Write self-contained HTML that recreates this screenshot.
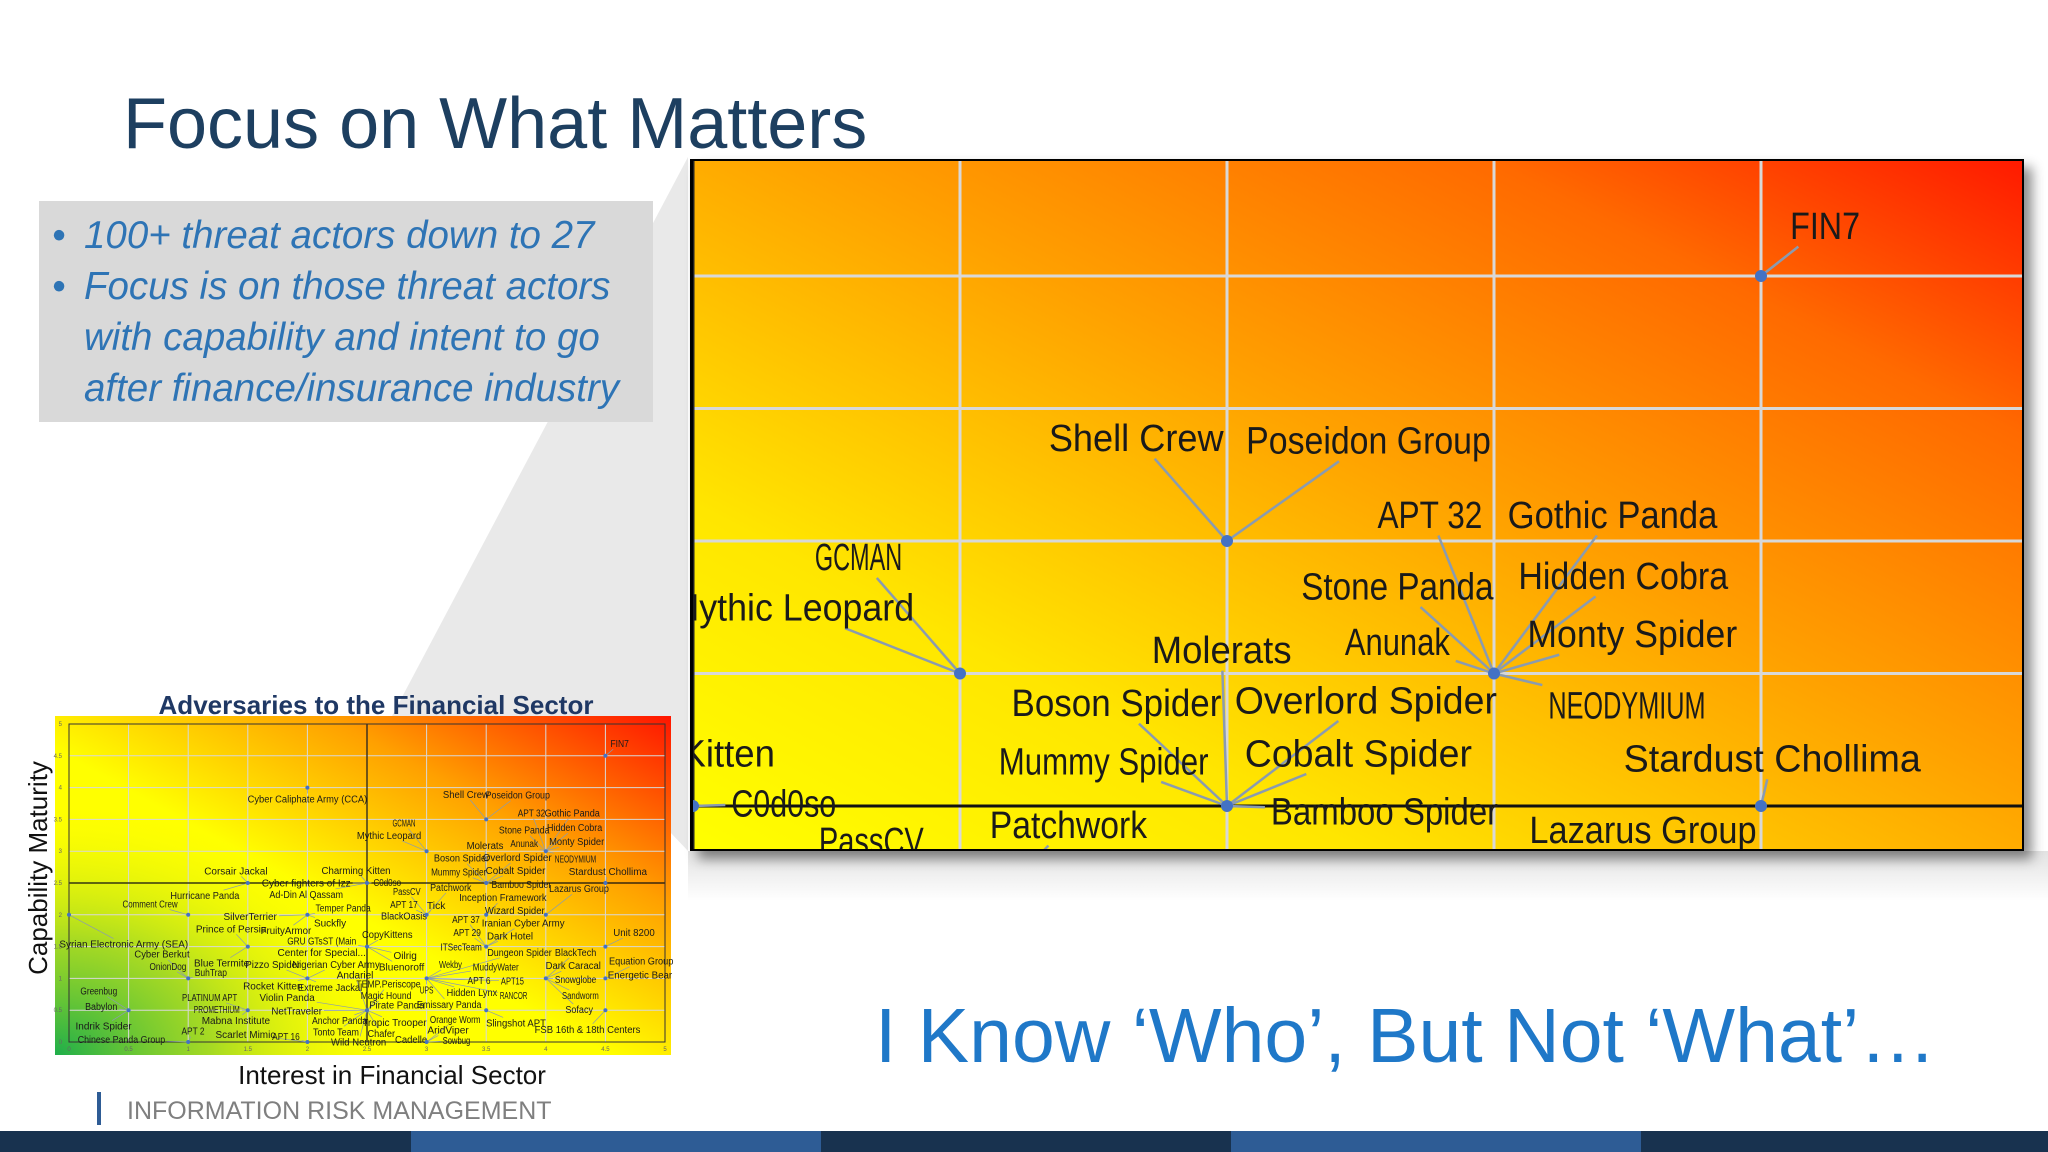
<!DOCTYPE html>
<html><head><meta charset="utf-8"><style>
html,body{margin:0;padding:0;background:#fff;width:2048px;height:1152px;overflow:hidden;}
body{position:relative;font-family:"Liberation Sans",sans-serif;}
</style></head><body>
<svg id="page" width="2048" height="1152" viewBox="0 0 2048 1152" xmlns="http://www.w3.org/2000/svg" style="position:absolute;left:0;top:0;overflow:hidden">
<defs>
  <linearGradient id="bigGrad" x1="0" y1="1" x2="1" y2="0">
    <stop offset="0" stop-color="#ffff00"/>
    <stop offset="0.25" stop-color="#ffe600"/>
    <stop offset="0.55" stop-color="#ffa000"/>
    <stop offset="0.8" stop-color="#ff6a00"/>
    <stop offset="1" stop-color="#ff1a00"/>
  </linearGradient>
  <linearGradient id="smallGrad" x1="0" y1="1" x2="1" y2="0">
    <stop offset="0" stop-color="#ffff00"/>
    <stop offset="0.45" stop-color="#ffff00"/>
    <stop offset="0.72" stop-color="#ffa000"/>
    <stop offset="1" stop-color="#ff1500"/>
  </linearGradient>
  <radialGradient id="greenGrad" cx="0" cy="1" r="0.75" gradientTransform="scale(0.75,1)">
    <stop offset="0" stop-color="#1fae4a" stop-opacity="1"/>
    <stop offset="0.45" stop-color="#8fd02c" stop-opacity="0.8"/>
    <stop offset="1" stop-color="#ffff00" stop-opacity="0"/>
  </radialGradient>
  <linearGradient id="bandGrad" x1="0" y1="0" x2="0" y2="1">
    <stop offset="0" stop-color="#e2e2e2"/>
    <stop offset="1" stop-color="#ffffff"/>
  </linearGradient>
  <filter id="shadow" x="-5%" y="-5%" width="115%" height="115%">
    <feDropShadow dx="8" dy="8" stdDeviation="6" flood-color="#000" flood-opacity="0.45"/>
  </filter>
  <clipPath id="bigClip"><rect x="693" y="161" width="1329" height="688"/></clipPath>
</defs>

<polygon points="392,716 688,157 688,851 560,716" fill="#e9e9e9"/>
<rect x="688" y="851" width="1360" height="50" fill="url(#bandGrad)"/>

<text x="123" y="148" font-size="72" fill="#1d3f60" font-family="Liberation Sans, sans-serif">Focus on What Matters</text>

<rect x="39" y="201" width="614" height="221" fill="#d9d9d9"/>
<g font-family="Liberation Sans, sans-serif" font-style="italic" font-size="38.5" fill="#2e74b5">
  <text x="52" y="248">•</text>
  <text x="84" y="248">100+ threat actors down to 27</text>
  <text x="52" y="299">•</text>
  <text x="84" y="299">Focus is on those threat actors</text>
  <text x="84" y="350">with capability and intent to go</text>
  <text x="84" y="401">after finance/insurance industry</text>
</g>

<g id="smallChart">
  <text x="376" y="714" text-anchor="middle" font-size="26" font-weight="bold" fill="#1f3864">Adversaries to the Financial Sector</text>
  <rect x="55" y="716" width="616" height="339" fill="url(#smallGrad)"/>
  <rect x="55" y="716" width="616" height="339" fill="url(#greenGrad)"/>
  <g id="smallGrid"></g>
  <g id="smallMarks"></g>
</g>
<text transform="translate(47,868) rotate(-90)" text-anchor="middle" font-size="26" fill="#111">Capability Maturity</text>
<text x="392" y="1084" text-anchor="middle" font-size="26" fill="#111">Interest in Financial Sector</text>

<g>
  <rect x="690" y="159" width="1334" height="692" fill="#000" filter="url(#shadow)"/>
  <rect x="693" y="161" width="1329" height="688" fill="url(#bigGrad)"/>
  <g clip-path="url(#bigClip)">
    <g id="bigGrid"></g>
    <g id="bigMarks"></g>
  </g>
</g>

<text x="875" y="1062" font-size="77" fill="#1f78c8">I Know ‘Who’, But Not ‘What’…</text>

<rect x="97" y="1092" width="4" height="33" fill="#2e5c95"/>
<text x="127" y="1119" font-size="25" fill="#7f7f7f">INFORMATION RISK MANAGEMENT</text>
<rect x="0" y="1131" width="411" height="21" fill="#18324f"/>
<rect x="411" y="1131" width="410" height="21" fill="#2e5c95"/>
<rect x="821" y="1131" width="410" height="21" fill="#18324f"/>
<rect x="1231" y="1131" width="410" height="21" fill="#2e5c95"/>
<rect x="1641" y="1131" width="407" height="21" fill="#18324f"/>
</svg>

<script>
const pointX = [4.5,2,3.5,3,4,3.5,4.5,1.5,2.5,1,0,2,1.5,1,2.5,2,2.5,3,1.5,2,1,0.5,3,3.5,4,3.5,3,3.5,4,4.5,4.5,4.5];
const pointY = [4.5,4,3.5,3,3,2.5,2.5,2.5,2.5,2,2,2,1.5,1,1.5,1,0.5,0,0.5,0,0,0.5,2,2,2,1.5,1,0.5,1,1.5,1,0.5];
const actorNames = ["FIN7","Cyber Caliphate Army (CCA)","Shell Crew","Poseidon Group","GCMAN","Mythic Leopard",
 "APT 32","Gothic Panda","Stone Panda","Hidden Cobra","Anunak","Monty Spider","NEODYMIUM",
 "Molerats","Boson Spider","Overlord Spider","Mummy Spider","Cobalt Spider","Bamboo Spider","Stardust Chollima",
 "Corsair Jackal","Hurricane Panda","Charming Kitten","C0d0so","Cyber fighters of Izz","Ad-Din Al Qassam",
 "Comment Crew","Syrian Electronic Army (SEA)","SilverTerrier","Temper Panda","Suckfly","FruityArmor",
 "Prince of Persia","Blue Termite","Cyber Berkut","OnionDog","BuhTrap",
 "GRU GTsST (Main","Center for Special...","CopyKittens","Oilrig","Bluenoroff",
 "Pizzo Spider","Nigerian Cyber Army","Rocket Kitten","Extreme Jackal",
 "Andariel","TEMP.Periscope","Magic Hound","Pirate Panda","Violin Panda","NetTraveler","Anchor Panda","Tonto Team","Wild Neutron","Tropic Trooper","Chafer",
 "Cadelle","Orange Worm","AridViper","Sowbug",
 "PLATINUM APT","PROMETHIUM","Mabna Institute","Scarlet Mimic","APT 16","APT 2","Chinese Panda Group",
 "Greenbug","Babylon","Indrik Spider",
 "Patchwork","PassCV","APT 17","Tick","BlackOasis","Inception Framework","Wizard Spider","Lazarus Group",
 "APT 37","APT 29","Iranian Cyber Army","Dark Hotel","ITSecTeam",
 "Dungeon Spider","Wekby","MuddyWater","APT 6","APT15","UPS","Hidden Lynx","RANCOR","Emissary Panda",
 "Slingshot APT","BlackTech","Dark Caracal","Snowglobe","Sandworm","Sofacy","Unit 8200","Equation Group","Energetic Bear","FSB 16th & 18th Centers"];
const actorPoint = [0,1,2,2,3,3, 4,4,4,4,4,4,4, 5,5,5,5,5,5,6, 7,7,8,8,8,8, 9,10,11,11,11,11, 12,12,13,13,13,
 14,14,14,14,14, 15,15,15,15, 16,16,16,16,16,16,16,16,16,16,16, 17,17,17,17, 18,18,18,19,19,20,20, 21,21,21,
 22,22,22,22,22,23,24,24, 25,25,25,25,25, 26,26,26,26,26,26,26,26,26, 27,28,28,28,28,28,29,30,30,31];
const labelX = [4.62,2.0,3.33,3.765,2.81,2.685, 3.88,4.222,3.819,4.242,3.819,4.259,4.249, 3.49,3.293,3.76,3.269,3.746,3.795,4.521,
 1.40,1.14,2.408,2.67,1.99,1.99, 0.68,0.46,1.52,2.30,2.19,1.82, 1.36,1.28,0.78,0.83,1.19,
 2.12,2.12,2.67,2.82,2.79, 1.71,2.24,1.71,2.19, 2.40,2.68,2.66,2.75,1.83,1.91,2.27,2.24,2.43,2.73,2.62,
 2.87,3.24,3.18,3.25, 1.18,1.24,1.40,1.48,1.82,1.04,0.44, 0.25,0.27,0.29,
 3.203,2.834,2.81,3.08,2.81,3.64,3.74,4.279, 3.33,3.34,3.81,3.70,3.29,
 3.78,3.20,3.58,3.44,3.72,3.00,3.38,3.73,3.19, 3.75,4.25,4.23,4.25,4.29,4.28,4.74,4.80,4.79,4.35];
const labelY = [4.69,3.82,3.89,3.88,3.44,3.25, 3.60,3.60,3.33,3.37,3.12,3.15,2.88, 3.09,2.89,2.90,2.67,2.70,2.48,2.68,
 2.69,2.30,2.70,2.51,2.50,2.32, 2.17,1.54,1.97,2.11,1.87,1.75, 1.78,1.24,1.38,1.19,1.09,
 1.59,1.41,1.69,1.36,1.18, 1.22,1.22,0.88,0.86, 1.05,0.91,0.73,0.58,0.70,0.49,0.34,0.16,0.00,0.31,0.13,
 0.04,0.35,0.19,0.02, 0.70,0.51,0.34,0.12,0.09,0.17,0.04, 0.80,0.56,0.25,
 2.43,2.37,2.16,2.15,1.98,2.27,2.07,2.41, 1.93,1.72,1.87,1.67,1.49,
 1.41,1.22,1.18,0.97,0.96,0.82,0.78,0.73,0.59, 0.30,1.41,1.20,0.98,0.73,0.51,1.72,1.27,1.05,0.20];
const tickValues = [0,0.5,1,1.5,2,2.5,3,3.5,4,4.5,5];
const tickLabels = ["0","0.5","1","1.5","2","2.5","3","3.5","4","4.5","5"];

const sx = v => 69 + v*119.2;
const sy = v => 1042 - v*63.6;
const bx = v => 960 + (v-3)*534;
const by = v => 276 + (4.5-v)*265;
const NS = "http://www.w3.org/2000/svg";
function mk(tag, attrs, parent){ const e=document.createElementNS(NS,tag); for(const k in attrs) e.setAttribute(k,attrs[k]); parent.appendChild(e); return e; }

function drawChart(gridG, marksG, X, Y, x0, x1, y0, y1, opt){
  tickValues.forEach((t,i)=>{
    if(t>0 && t<5){
      const vl = mk('line',{x1:X(t),x2:X(t),y1:Y(y0),y2:Y(y1),stroke:'#d8d8d8','stroke-width':opt.grid},gridG);
      
      
      const hl = mk('line',{x1:X(x0),x2:X(x1),y1:Y(t),y2:Y(t),stroke:'#d8d8d8','stroke-width':opt.grid},gridG);
      
      
    }
  });
  const q1 = mk('line',{x1:X(2.5),x2:X(2.5),y1:Y(y0),y2:Y(y1),stroke:'#222','stroke-width':opt.quad},gridG);
  
  
  const q2 = mk('line',{x1:X(x0),x2:X(x1),y1:Y(2.5),y2:Y(2.5),stroke:'#111','stroke-width':opt.quad},gridG);
  
  
  if(opt.ticks){
    const fr = mk('rect',{x:X(0),y:Y(5),width:X(5)-X(0),height:Y(0)-Y(5),fill:'none',stroke:'#333','stroke-width':1},gridG);
    
    
    tickValues.forEach((t,i)=>{
      const tx = mk('text',{x:X(t),y:1051,'font-size':6,'text-anchor':'middle',fill:'#666'},gridG);
      tx.textContent = tickLabels[i];
      
      
      const ty = mk('text',{x:62,y:Y(t)+2,'font-size':6,'text-anchor':'end',fill:'#666'},gridG);
      ty.textContent = tickLabels[i];
      
      
    });
  }
  const lines = mk('g',{},marksG), texts = mk('g',{},marksG), dots = mk('g',{},marksG);
  actorNames.forEach((nm,i)=>{
    const p = actorPoint[i];
    const cx = X(labelX[i]), cy = Y(labelY[i]);
    const t = mk('text',{x:cx,y:cy+opt.fs*0.35,'font-size':opt.fs,'text-anchor':'middle',fill:'#1a1a1a',
      'font-family':'"Liberation Sans Narrow","Liberation Sans",sans-serif'},texts);
    t.textContent = nm;
    
    
    const bb = t.getBBox();
    if(bb.width > opt.fs*0.46*nm.length){
      t.setAttribute('textLength', (opt.fs*0.46*nm.length).toFixed(1));
      t.setAttribute('lengthAdjust','spacingAndGlyphs');
    }
    const w = Math.min(bb.width, opt.fs*0.46*nm.length);
    const hw = w/2 + opt.pad, hh = bb.height/2;
    const px = X(pointX[p]), py = Y(pointY[p]);
    const dx = px-cx, dy = py-cy;
    let tt = Math.min(dx!==0?hw/Math.abs(dx):Infinity, dy!==0?hh/Math.abs(dy):Infinity);
    if(tt<1){
      const ln = mk('line',{x1:cx+dx*tt,y1:cy+dy*tt,x2:px,y2:py,stroke:'#8a9bb0','stroke-width':opt.lw},lines);
      
      
    }
  });
  pointX.forEach((v,i)=>{
    const c = mk('circle',{cx:X(v),cy:Y(pointY[i]),r:opt.r,fill:'#4472c4'},dots);
    
    
  });
}
drawChart(document.getElementById('smallGrid'),document.getElementById('smallMarks'),sx,sy,0,5,0,5,
  {grid:1,quad:1.3,fs:10,pad:2,lw:0.7,r:2,ticks:true});
drawChart(document.getElementById('bigGrid'),document.getElementById('bigMarks'),bx,by,2.5,5.05,2.3,4.95,
  {grid:3,quad:3,fs:38,pad:6,lw:2.5,r:6,ticks:false});
</script>
</body></html>
